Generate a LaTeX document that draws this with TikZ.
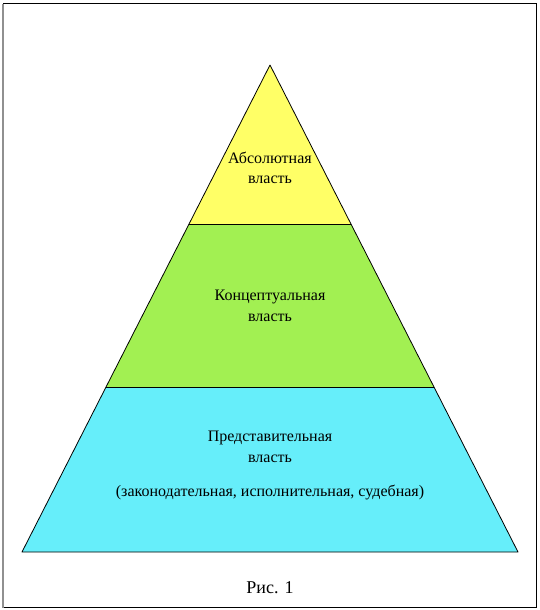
\documentclass[tikz,border=0pt]{standalone}
\usepackage{fontspec}
\setmainfont{Liberation Serif}
\definecolor{absyellow}{HTML}{FFFF66}
\definecolor{conceptgreen}{HTML}{A2F052}
\definecolor{reprcyan}{HTML}{66EEFA}
\definecolor{framegray}{HTML}{909090}
\begin{document}
\begin{tikzpicture}[x=1pt,y=-1pt,
  band/.style={draw=black, line width=0.8pt, line join=round},
  lbl/.style={align=center, font=\fontsize{16}{20.5}\selectfont, inner sep=0pt}]
\useasboundingbox (0,0) rectangle (540,610);
% frame
\draw[line width=1pt] (3,4) -- (536,4) -- (536,607) -- (3,607);
\draw[framegray, line width=2.2pt] (3.2,4) -- (3.2,607.5);
% pyramid corners
\coordinate (apex) at (270,65);
\coordinate (yl) at (189.0,224);
\coordinate (yr) at (351.0,224);
\coordinate (gl) at (106.0,387);
\coordinate (gr) at (434.0,387);
\coordinate (bl) at (22,552);
\coordinate (br) at (518,552);
\fill[absyellow] (apex) -- (yr) -- (yl) -- cycle;
\fill[conceptgreen] (yl) -- (yr) -- (gr) -- (gl) -- cycle;
\fill[reprcyan] (gl) -- (gr) -- (br) -- (bl) -- cycle;
\draw[band] (apex) -- (br) -- (bl) -- cycle;
\draw[band] (yl) -- (yr);
\draw[band] (gl) -- (gr);
% labels
\node[lbl] (abs) at (270,168) {Абсолютная\\власть};
\node[lbl] (con) at (270,306) {Концептуальная\\власть};
\node[lbl] (rep) at (270,447) {Представительная\\власть};
\node[lbl] (repsub) at (270,492) {(законодательная, исполнительная, судебная)};
\node[lbl, font=\fontsize{18}{22}\selectfont] (cap) at (270,588) {Рис. 1};
\end{tikzpicture}
\end{document}
